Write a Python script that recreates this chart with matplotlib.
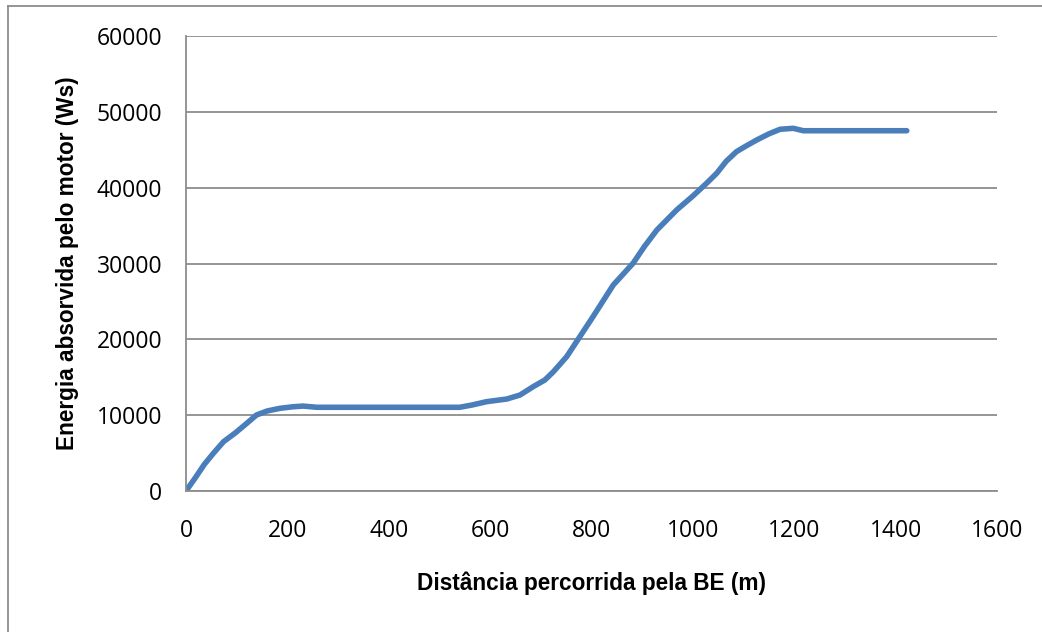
import numpy as np
import matplotlib.pyplot as plt
from matplotlib.lines import Line2D

# distance (m) and absorbed energy (Ws)
distance = [0, 20, 36, 54, 74, 98, 120, 139, 160, 185, 210, 231, 258, 540,
            565, 593, 633, 659, 685, 708, 725, 751, 777, 803, 843, 882, 905,
            929, 968, 1000, 1027, 1047, 1066, 1086, 1105, 1126, 1150, 1172,
            1198, 1218, 1422]
energy = [0, 1900, 3500, 4970, 6500, 7700, 8930, 10020, 10550, 10900, 11100,
          11200, 11040, 11040, 11350, 11780, 12130, 12660, 13760, 14640,
          15740, 17710, 20350, 22990, 27170, 30030, 32300, 34420, 37060,
          38900, 40580, 41900, 43500, 44750, 45500, 46290, 47100, 47700,
          47830, 47510, 47510]

x_ticks = [0, 200, 400, 600, 800, 1000, 1200, 1400, 1600]
y_ticks = [0, 10000, 20000, 30000, 40000, 50000, 60000]

tick_font = ['Open Sans', 'DejaVu Sans']
label_font = ['Liberation Sans Narrow', 'Liberation Sans', 'DejaVu Sans']

fig = plt.figure(figsize=(10.42, 6.32), dpi=100)
ax = fig.add_axes([0.1785, 0.2231, 0.9568 - 0.1785, 0.943 - 0.2231])

ax.plot(distance, energy, color='#4a7ebb', lw=4, solid_capstyle='round',
        solid_joinstyle='round')

ax.set_xlim(0, 1600)
ax.set_ylim(0, 60000)
ax.set_xticks(x_ticks)
ax.set_yticks(y_ticks)
ax.set_xticklabels([str(t) for t in x_ticks], family=tick_font, fontsize=16.5)
ax.set_yticklabels([str(t) for t in y_ticks], family=tick_font, fontsize=16.5)
ax.tick_params(axis='both', length=0)
ax.tick_params(axis='x', pad=20)
ax.tick_params(axis='y', pad=17)

ax.grid(True, axis='y', color='#8c8c8c', lw=1.3)
ax.set_axisbelow(True)
for s in ['top', 'right']:
    ax.spines[s].set_visible(False)
for s in ['left', 'bottom']:
    ax.spines[s].set_color('#8c8c8c')
    ax.spines[s].set_linewidth(1.3)

ax.set_xlabel('Distância percorrida pela BE (m)', family=label_font,
              fontweight='bold', fontsize=16.3, labelpad=21)
ax.set_ylabel('Energia absorvida pelo motor (Ws)', family=label_font,
              fontweight='bold', fontsize=16.3, labelpad=13)

# outer chart border (top and left edges visible)
fig.add_artist(Line2D([8 / 1042, 1.0], [1 - 6 / 632, 1 - 6 / 632],
                      transform=fig.transFigure, color='#8c8c8c', lw=1.3))
fig.add_artist(Line2D([8 / 1042, 8 / 1042], [0.0, 1 - 6 / 632],
                      transform=fig.transFigure, color='#8c8c8c', lw=1.3))

fig.savefig('out.png', dpi=100)
